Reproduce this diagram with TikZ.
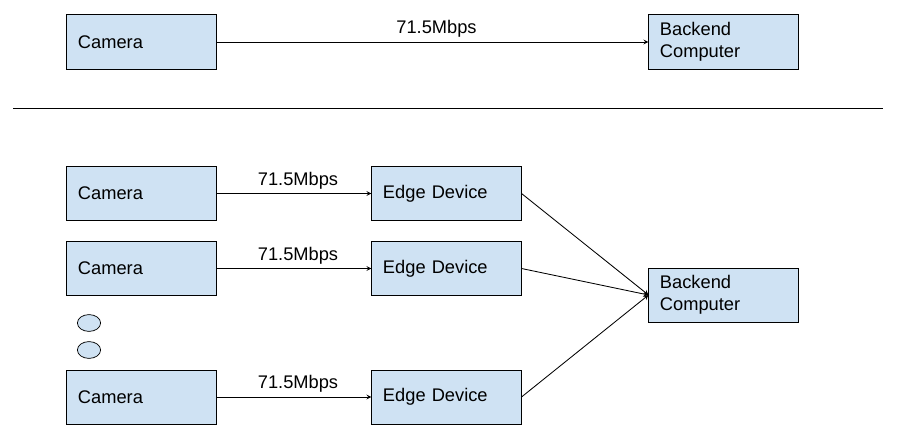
\documentclass[tikz,border=0pt]{standalone}
\usepackage{fontspec}
\setmainfont{Liberation Sans}
\usetikzlibrary{shapes.geometric}
\definecolor{boxblue}{HTML}{CFE2F3}

\begin{document}
\begin{tikzpicture}
[x=0.025cm,y=-0.025cm,%
  every node/.style={font=\fontsize{13}{15.5}\selectfont},%
  box/.style={shape=rectangle,draw,line width=0.7pt,fill=boxblue,
    minimum height=1.35cm,text width=3.175cm,inner xsep=0.275cm,align=left},%
  dot/.style={shape=ellipse,draw,line width=0.5pt,fill=boxblue,
    minimum width=0.58cm,minimum height=0.42cm,inner sep=0pt},%
  link/.style={->,>=stealth,line width=0.6pt},%
  rate/.style={above,inner sep=1pt,yshift=2pt,xshift=0.1cm}]
\useasboundingbox (0,0) rectangle (897,433);
% single camera straight to the backend
\node[box] (cam0) at (141.5,42) {Camera};
\node[box] (back0) at (723.5,42) {Backend\\Computer};
\draw[link] (cam0) -- node[rate] {71.5Mbps} (back0);
% separator
\coordinate (sepL) at (13,108);
\coordinate (sepR) at (883,108);
\draw[line width=0.7pt] (sepL) -- (sepR);
% cameras through edge devices
\node[box] (cam1) at (141.5,193.5) {Camera};
\node[box] (cam2) at (141.5,268.5) {Camera};
\node[box] (cam3) at (141.5,397) {Camera};
\node[box] (edge1) at (446.5,193.5) {Edge Device};
\node[box] (edge2) at (446.5,268.5) {Edge Device};
\node[box] (edge3) at (446.5,397) {Edge Device};
\node[box] (back1) at (723.5,295) {Backend\\Computer};
\node[dot] (dot1) at (89,323) {};
\node[dot] (dot2) at (89,350) {};
\foreach \i in {1,2,3} {
  \draw[link] (cam\i) -- node[rate] {71.5Mbps} (edge\i);
  \draw[link] (edge\i.east) -- (back1.west);
}
\end{tikzpicture}
\end{document}
